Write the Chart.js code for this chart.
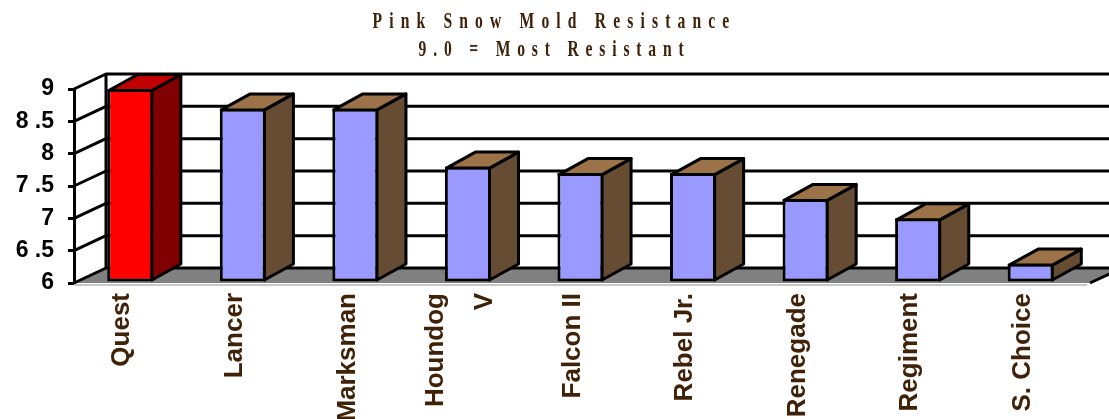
<!DOCTYPE html>
<html>
<head>
<meta charset="utf-8">
<script src="https://cdn.jsdelivr.net/npm/chart.js@4.4.1/dist/chart.umd.min.js"></script>
<style>
  html, body { margin: 0; padding: 0; background: #fff; }
  canvas { display: block; }
</style>
</head>
<body>
<canvas id="moldChart" width="1109" height="419"></canvas>
<script>
const titleLines = ['Pink Snow Mold Resistance', '9.0 = Most Resistant'];
const categories = ['Quest', 'Lancer', 'Marksman', ['Houndog', 'V'], 'Falcon II', 'Rebel Jr.', 'Renegade', 'Regiment', 'S. Choice'];
const resistance = [9.0, 8.7, 8.7, 7.8, 7.7, 7.7, 7.3, 7.0, 6.3];
const tickValues = [6, 6.5, 7, 7.5, 8, 8.5, 9];
const tickLabels = ['6', '6 .5', '7', '7 .5', '8', '8 .5', '9'];

// 3d look
const WALL_DX = 32, WALL_DY = 15;
const BAR_DX = 29, BAR_DY = 16;
const brown = '#3f2208';
const labelFont = 'bold 26px Arial, "Liberation Sans", sans-serif';

function faceColors(i) {
    if (i === 0) return { front: '#ff0000', side: '#800000', top: '#c00000' };
    return { front: '#9999ff', side: '#664c33', top: '#9c7249' };
}

function poly(ctx, pts, fill) {
    ctx.beginPath();
    ctx.moveTo(pts[0][0], pts[0][1]);
    for (let i = 1; i < pts.length; i++) ctx.lineTo(pts[i][0], pts[i][1]);
    ctx.closePath();
    if (fill) { ctx.fillStyle = fill; ctx.fill(); }
    ctx.stroke();
}

const walls = {
    id: 'walls',
    beforeDatasetsDraw(chart) {
        const { ctx, chartArea: a, scales } = chart;
        const y = scales.y;
        ctx.save();
        ctx.lineWidth = 3;
        ctx.strokeStyle = '#000';
        ctx.lineJoin = 'round';

        // floor
        ctx.beginPath();
        ctx.moveTo(a.left, a.bottom);
        ctx.lineTo(a.right + 3, a.bottom);
        ctx.lineTo(a.right + 3 + WALL_DX, a.bottom - WALL_DY);
        ctx.lineTo(a.left + WALL_DX, a.bottom - WALL_DY);
        ctx.closePath();
        ctx.fillStyle = '#808080';
        ctx.fill();
        ctx.beginPath();
        ctx.moveTo(a.right + 3, a.bottom);
        ctx.lineTo(a.right + 3 + WALL_DX, a.bottom - WALL_DY);
        ctx.stroke();

        // light line under the floor
        ctx.save();
        ctx.strokeStyle = '#c8c8c8';
        ctx.lineWidth = 2;
        ctx.beginPath();
        ctx.moveTo(a.left, a.bottom + 2);
        ctx.lineTo(a.right, a.bottom + 2);
        ctx.stroke();
        ctx.restore();

        // back wall grid + left wall
        tickValues.forEach(v => {
            const py = y.getPixelForValue(v);
            ctx.beginPath();
            ctx.moveTo(a.left, py);
            ctx.lineTo(a.left + WALL_DX, py - WALL_DY);
            ctx.lineTo(chart.width + 5, py - WALL_DY);
            ctx.stroke();
        });
        ctx.beginPath();
        ctx.moveTo(a.left + WALL_DX, a.top - WALL_DY);
        ctx.lineTo(a.left + WALL_DX, a.bottom - WALL_DY);
        ctx.stroke();
        ctx.restore();
    },
    afterDatasetsDraw(chart) {
        const { ctx } = chart;
        const bars = chart.getDatasetMeta(0).data;
        ctx.save();
        ctx.lineWidth = 3;
        ctx.strokeStyle = '#000';
        ctx.lineJoin = 'round';
        bars.forEach((bar, i) => {
            const c = faceColors(i);
            const l = bar.x - bar.width / 2 + 1.5;
            const r = bar.x + bar.width / 2 - 1.5;
            const t = bar.y + 1.5;
            const b = bar.base - 1.5;
            poly(ctx, [[r, t], [r + BAR_DX, t - BAR_DY], [r + BAR_DX, b - BAR_DY], [r, b]], c.side);
            poly(ctx, [[l, t], [l + BAR_DX, t - BAR_DY], [r + BAR_DX, t - BAR_DY], [r, t]], c.top);
        });
        ctx.restore();
    },
    afterDraw(chart) {
        const { ctx, chartArea: a } = chart;
        const x = chart.scales.x;

        // category labels, turned to read upward
        ctx.save();
        ctx.fillStyle = brown;
        ctx.font = labelFont;
        ctx.textAlign = 'right';
        ctx.textBaseline = 'middle';
        categories.forEach((lab, i) => {
            const lines = Array.isArray(lab) ? lab : [lab];
            const px = x.getPixelForValue(i) - 8;
            ctx.save();
            ctx.translate(px, a.bottom + 10);
            ctx.rotate(-Math.PI / 2);
            lines.forEach((ln, j) => ctx.fillText(ln, 0, (j - (lines.length - 1) / 2) * 49));
            ctx.restore();
        });
        ctx.restore();

        // title
        ctx.save();
        ctx.fillStyle = brown;
        ctx.font = 'bold 24px "Liberation Serif", "Times New Roman", serif';
        ctx.textAlign = 'center';
        ctx.textBaseline = 'alphabetic';
        ctx.translate(chart.width / 2, 0);
        ctx.scale(0.65, 1);
        ctx.letterSpacing = '11px';
        ctx.fillText(titleLines[0], 0, 28);
        ctx.letterSpacing = '10.5px';
        ctx.fillText(titleLines[1], 0, 56);
        ctx.restore();
    }
};

new Chart(document.getElementById('moldChart'), {
    type: 'bar',
    data: {
        labels: categories,
        datasets: [{
            data: resistance,
            base: tickValues[0],
            backgroundColor: resistance.map((v, i) => faceColors(i).front),
            borderColor: '#000',
            borderWidth: 3,
            borderSkipped: false,
            barPercentage: 0.41,
            categoryPercentage: 1
        }]
    },
    options: {
        responsive: false,
        animation: false,
        layout: { padding: { top: 89, right: 22, left: 0, bottom: 0 } },
        plugins: {
            legend: { display: false },
            title: { display: false },
            tooltip: { enabled: false }
        },
        scales: {
            x: {
                grid: { display: false, drawTicks: false },
                border: { display: false },
                ticks: { display: false },
                afterFit(scale) { scale.height = 136; }
            },
            y: {
                min: 6,
                max: 9,
                afterBuildTicks(scale) { scale.ticks = tickValues.map(v => ({ value: v })); },
                grid: { drawOnChartArea: false, drawTicks: true, tickLength: 6, color: '#000', lineWidth: 3 },
                border: { display: true, color: '#000', width: 3 },
                ticks: {
                    padding: 14,
                    color: '#000',
                    font: { family: 'Arial, "Liberation Sans", sans-serif', size: 23, weight: 'bold' },
                    callback: (v, i) => tickLabels[i]
                },
                afterFit(scale) { scale.width = 74; }
            }
        }
    },
    plugins: [walls]
});
</script>
</body>
</html>
